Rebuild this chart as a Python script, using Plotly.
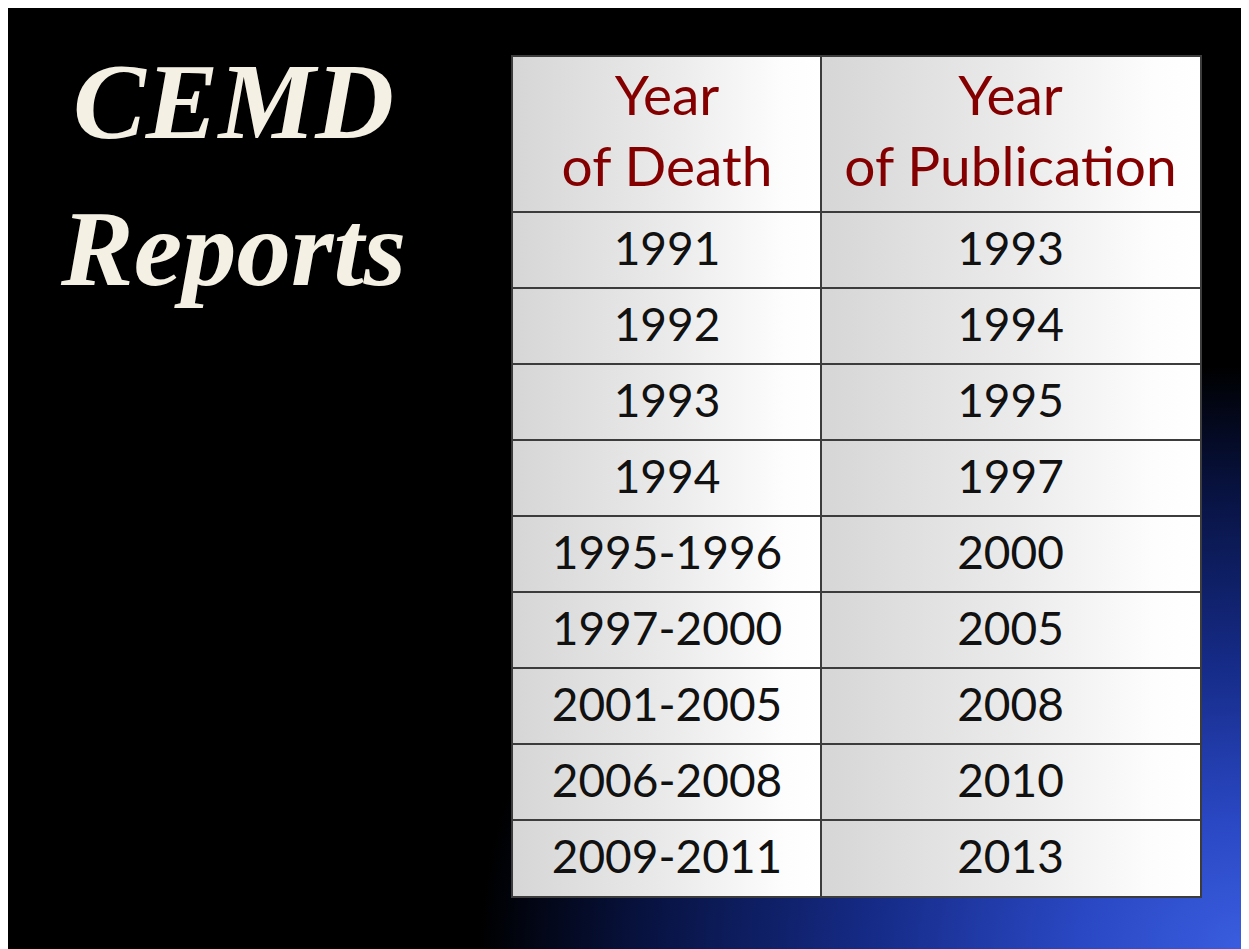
import base64
import plotly.graph_objects as go

title_lines = ["CEMD", "Reports"]
header = ["Year<br>of Death", "Year<br>of Publication"]
year_of_death = ["1991", "1992", "1993", "1994", "1995-1996", "1997-2000",
                 "2001-2005", "2006-2008", "2009-2011"]
year_of_publication = ["1993", "1994", "1995", "1997", "2000", "2005",
                       "2008", "2010", "2013"]

# figure size (the page adds 8px of body margin)
W, H = 1241, 941
tbl_left, tbl_top = 505, 49
header_h, row_h = 155, 76
col_w = [308, 379]
text_dy = 3
n = len(year_of_death)
tw = sum(col_w)
th = header_h + row_h * n

x_edges = [0, col_w[0], tw]
y_edges = [0, header_h] + [header_h + row_h * (i + 1) for i in range(n)]
col_x = [col_w[0] / 2, col_w[0] + col_w[1] / 2]
row_y = [header_h + row_h * (i + 0.5) + text_dy for i in range(n)]


def svg_uri(svg):
    return "data:image/svg+xml;base64," + base64.b64encode(svg.encode()).decode()


# black slide with a blue glow in the bottom right corner
bg_svg = f"""<svg xmlns="http://www.w3.org/2000/svg" width="{W}" height="{H}" viewBox="0 0 {W} {H}" preserveAspectRatio="none">
<defs><radialGradient id="g" cx="1" cy="1" r="0.62" gradientUnits="objectBoundingBox">
<stop offset="0" stop-color="#3a5ee0"/><stop offset="0.22" stop-color="#2a48c4"/>
<stop offset="0.5" stop-color="#152a85"/><stop offset="0.78" stop-color="#081342"/>
<stop offset="1" stop-color="#000000"/></radialGradient></defs>
<rect width="{W}" height="{H}" fill="#000"/><rect width="{W}" height="{H}" fill="url(#g)"/></svg>"""

# grey-to-white gradient in each column of the table
rects = "".join(f'<rect x="{x_edges[i]}" y="0" width="{col_w[i]}" height="{th}" fill="url(#c)"/>'
                for i in range(len(col_w)))
cell_svg = f"""<svg xmlns="http://www.w3.org/2000/svg" width="{tw}" height="{th}" viewBox="0 0 {tw} {th}" preserveAspectRatio="none">
<defs><linearGradient id="c" x1="0" y1="0" x2="1" y2="0">
<stop offset="0" stop-color="#d6d6d6"/><stop offset="0.5" stop-color="#eaeaea"/>
<stop offset="0.88" stop-color="#fdfdfd"/><stop offset="1" stop-color="#ffffff"/></linearGradient></defs>
{rects}</svg>"""

fig = go.Figure()
fig.add_trace(go.Scatter(x=col_x, y=[header_h / 2 + 2] * len(col_x), text=header,
                         mode="text", textposition="middle center", hoverinfo="skip",
                         textfont=dict(family="Lato", size=55, color="#840000")))
for i, col in enumerate([year_of_death, year_of_publication]):
    fig.add_trace(go.Scatter(x=[col_x[i]] * n, y=row_y, text=col,
                             mode="text", textposition="middle center", hoverinfo="skip",
                             textfont=dict(family="Lato", size=46, color="#111111")))

grid = dict(showgrid=True, gridcolor="#3c3c3c", gridwidth=2, showticklabels=False,
            ticks="", zeroline=False, showline=True, mirror=True,
            linecolor="#3c3c3c", linewidth=2, fixedrange=True)
fig.update_xaxes(range=[0, tw], domain=[tbl_left / W, (tbl_left + tw) / W],
                 tickvals=x_edges, **grid)
fig.update_yaxes(range=[th, 0], domain=[1 - (tbl_top + th) / H, 1 - tbl_top / H],
                 tickvals=y_edges, **grid)

fig.add_layout_image(source=svg_uri(bg_svg), xref="paper", yref="paper", x=0, y=1,
                     sizex=1, sizey=1, xanchor="left", yanchor="top",
                     sizing="stretch", layer="below")
fig.add_layout_image(source=svg_uri(cell_svg), xref="paper", yref="paper",
                     x=tbl_left / W, y=1 - tbl_top / H, sizex=tw / W, sizey=th / H,
                     xanchor="left", yanchor="top", sizing="stretch", layer="below")

title_y = [93, 240]
for txt, ty in zip(title_lines, title_y):
    fig.add_annotation(text=txt, xref="paper", yref="paper", x=225 / W, y=1 - ty / H,
                       xanchor="center", yanchor="middle", showarrow=False,
                       font=dict(family="Liberation Serif", size=109, color="#f4f1e4",
                                 weight="bold", style="italic"))

fig.update_layout(width=W, height=H, margin=dict(l=0, r=0, t=0, b=0),
                  paper_bgcolor="#000000", plot_bgcolor="rgba(0,0,0,0)",
                  showlegend=False)

fig.write_html("out.html")
